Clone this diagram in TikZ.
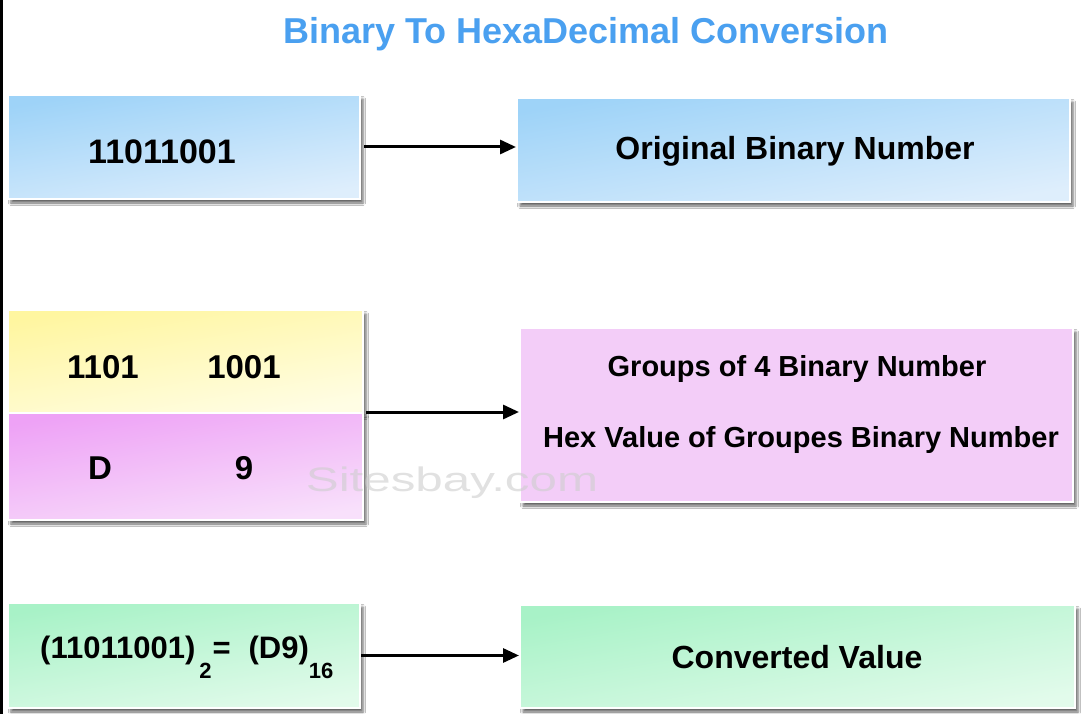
\documentclass[tikz,border=0pt]{standalone}
\usepackage{fontspec}
\usepackage{graphicx}
\setmainfont{Liberation Sans}
\usetikzlibrary{arrows.meta,shadows.blur}
\definecolor{titleblue}{RGB}{74,160,240}
\definecolor{blueA}{RGB}{158,211,248}
\definecolor{blueB}{RGB}{222,238,252}
\definecolor{yelA}{RGB}{255,246,160}
\definecolor{yelB}{RGB}{255,253,228}
\definecolor{pinkA}{RGB}{238,162,246}
\definecolor{pinkB}{RGB}{248,224,251}
\definecolor{pinkR}{RGB}{243,205,248}
\definecolor{greenA}{RGB}{168,242,199}
\definecolor{greenB}{RGB}{226,251,235}
\definecolor{wmark}{RGB}{205,205,205}
\tikzset{
  box/.style={draw=white, line width=2pt, inner sep=0pt,
    blur shadow={shadow xshift=3pt, shadow yshift=-4pt, shadow blur radius=2.5pt, shadow opacity=60}},
  bluebox/.style={box, top color=blueA, bottom color=blueB, shading angle=10},
  yelbox/.style={box, top color=yelA, bottom color=yelB, shading angle=10},
  pinkbox/.style={box, top color=pinkA, bottom color=pinkB, shading angle=10},
  pinkrbox/.style={box, fill=pinkR},
  greenbox/.style={box, top color=greenA, bottom color=greenB, shading angle=10},
  lbl/.style={inner sep=0pt, anchor=base, text=black, font=\bfseries},
  arr/.style={line width=3pt, -{Triangle[length=16pt,width=14pt]}}
}
\begin{document}
\begin{tikzpicture}[x=1pt,y=-1pt]
\useasboundingbox (0,0) rectangle (1088,714);
\fill[white] (0,0) rectangle (1088,714);
\draw[black, line width=2.5pt] (1.25,0) -- (1.25,714);

% title
\node[inner sep=0pt, anchor=base, text=titleblue, font=\fontsize{36}{40}\selectfont\bfseries] (title) at (586,44) {Binary To HexaDecimal Conversion};

% row 1
\node[bluebox, minimum width=352pt, minimum height=104pt] (a) at (184,147) {};
\node[bluebox, minimum width=553pt, minimum height=104pt] (b) at (793.5,150) {};
\node[lbl, font=\fontsize{34}{40}\selectfont\bfseries] (ta) at (162,164) {11011001};
\node[lbl, font=\fontsize{32}{38}\selectfont\bfseries] (tb) at (795,160) {Original Binary Number};
\draw[arr] (a.east) ++(3pt,0) coordinate (a1) -- (a1 -| b.west) coordinate (b1);

% row 2
\node[yelbox, minimum width=355pt, minimum height=103pt] (y) at (185.5,361.5) {};
\node[pinkbox, minimum width=355pt, minimum height=107pt] (p) at (185.5,466.5) {};
\node[pinkrbox, minimum width=553pt, minimum height=174pt] (pr) at (796.5,415) {};
\node[lbl, font=\fontsize{33}{38}\selectfont\bfseries] (g1) at (103,378) {1101};
\node[lbl, font=\fontsize{33}{38}\selectfont\bfseries] (g2) at (244,378) {1001};
\node[lbl, font=\fontsize{33}{38}\selectfont\bfseries] (h1) at (100,479) {D};
\node[lbl, font=\fontsize{33}{38}\selectfont\bfseries] (h2) at (244,479) {9};
\node[lbl, font=\fontsize{29}{34}\selectfont\bfseries] (tg) at (797,377) {Groups of 4 Binary Number};
\node[lbl, font=\fontsize{29}{34}\selectfont\bfseries] (th) at (801,447) {Hex Value of Groupes Binary Number};
\coordinate (mid) at (p.north east);
\draw[arr] (mid) ++(2pt,0) coordinate (m1) -- (m1 -| pr.west);

% watermark
\node[inner sep=0pt, anchor=base, text=wmark, opacity=0.6, font=\fontsize{34}{34}\selectfont] (wm) at (452,491) {\scalebox{1.45}[1]{Sitesbay.com}};

% row 3
\node[greenbox, minimum width=352pt, minimum height=105pt] (c) at (184,655.5) {};
\node[greenbox, minimum width=555pt, minimum height=103pt] (d) at (797.5,656.5) {};
\node[inner sep=0pt, anchor=base west, text=black, font=\fontsize{31}{34}\selectfont\bfseries] (tc) at (40,658)
  {(11011001)\hspace{4pt}\raisebox{-20pt}{\fontsize{22}{24}\selectfont\bfseries 2}\hspace{1pt}=\hspace{18pt}(D9)\raisebox{-20pt}{\fontsize{22}{24}\selectfont\bfseries 16}};
\node[lbl, font=\fontsize{32}{38}\selectfont\bfseries] (td) at (797,668) {Converted Value};
\draw[arr] (c.east) -- (c.east -| d.west);
\end{tikzpicture}
\end{document}
